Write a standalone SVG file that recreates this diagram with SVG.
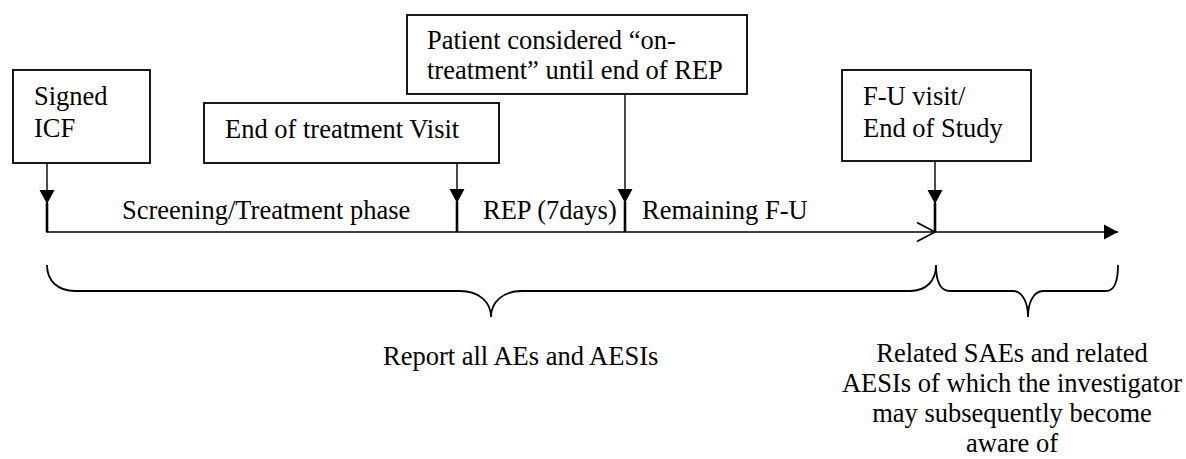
<svg xmlns="http://www.w3.org/2000/svg" width="1186" height="459" viewBox="0 0 1186 459">
<style>
text{font-family:"Liberation Serif","Times New Roman",serif;font-size:26.5px;fill:#000}
.box{fill:#fff;stroke:#000;stroke-width:1.8}
.ln{fill:none;stroke:#000;stroke-width:1.4}
.thick{fill:none;stroke:#000;stroke-width:2.6}
.br{fill:none;stroke:#000;stroke-width:1.8}
.mid{text-anchor:middle}
</style>
<defs>
<marker id="ah" viewBox="0 0 16 16" markerWidth="16" markerHeight="16" refX="14" refY="8" orient="auto" markerUnits="userSpaceOnUse">
<path d="M0,0.5 L14,8 L0,15.5 Z" fill="#000"/>
</marker>
</defs>
<rect width="1186" height="459" fill="#fff"/>
<g id="connectors">
<line class="ln" x1="47" y1="163" x2="47" y2="204" marker-end="url(#ah)"/>
<line class="thick" x1="47" y1="203" x2="47" y2="232"/>
<line class="ln" x1="457" y1="163" x2="457" y2="203" marker-end="url(#ah)"/>
<line class="thick" x1="457" y1="202" x2="457" y2="232"/>
<line class="ln" x1="625" y1="94" x2="625" y2="203" marker-end="url(#ah)"/>
<line class="thick" x1="625" y1="202" x2="625" y2="232"/>
<line class="ln" x1="935" y1="161" x2="935" y2="204" marker-end="url(#ah)"/>
<line class="thick" x1="935" y1="203" x2="935" y2="232"/>
<path class="ln" d="M46,232 H935" style="stroke-width:1.6"/>
<polyline class="ln" points="917,222.5 935,232 917,241.5" style="stroke-width:1.6"/>
<line class="ln" x1="935" y1="232" x2="1118" y2="232" marker-end="url(#ah)" style="stroke-width:1.6"/>
<path class="br" d="M47,265 C47,281 58,291 75,291 L460,291 C479,291 491,302 491,317 C491,302 503,291 522,291 L910,291 C926,291 936,281 936,265"/>
<path class="br" d="M936,265 C936,281 940,291 950,291 L1013,291 C1022,291 1028,302 1028,317 C1028,302 1034,291 1043,291 L1106,291 C1114,291 1118,281 1118,265"/>
</g>
<g id="signed-icf">
<rect class="box" x="13" y="70" width="137" height="93"/>
<text x="34" y="105">Signed</text>
<text x="34" y="137">ICF</text>
</g>
<g id="end-of-treatment">
<rect class="box" x="204" y="103" width="295" height="60"/>
<text x="225" y="138">End of treatment Visit</text>
</g>
<g id="on-treatment">
<rect class="box" x="407" y="15" width="340" height="79"/>
<text x="427" y="49">Patient considered “on-</text>
<text x="427" y="79">treatment” until end of REP</text>
</g>
<g id="fu-visit">
<rect class="box" x="842" y="70" width="189" height="91"/>
<text x="863" y="105">F-U visit/</text>
<text x="863" y="137">End of Study</text>
</g>
<g id="phase-labels">
<text x="122" y="219">Screening/Treatment phase</text>
<text x="483" y="219">REP (7days)</text>
<text x="642" y="219">Remaining F-U</text>
</g>
<g id="report-all">
<text x="383" y="365">Report all AEs and AESIs</text>
</g>
<g id="related-saes">
<text class="mid" x="1012" y="362">Related SAEs and related</text>
<text class="mid" x="1012" y="392">AESIs of which the investigator</text>
<text class="mid" x="1012" y="422">may subsequently become</text>
<text class="mid" x="1012" y="452">aware of</text>
</g>
</svg>
